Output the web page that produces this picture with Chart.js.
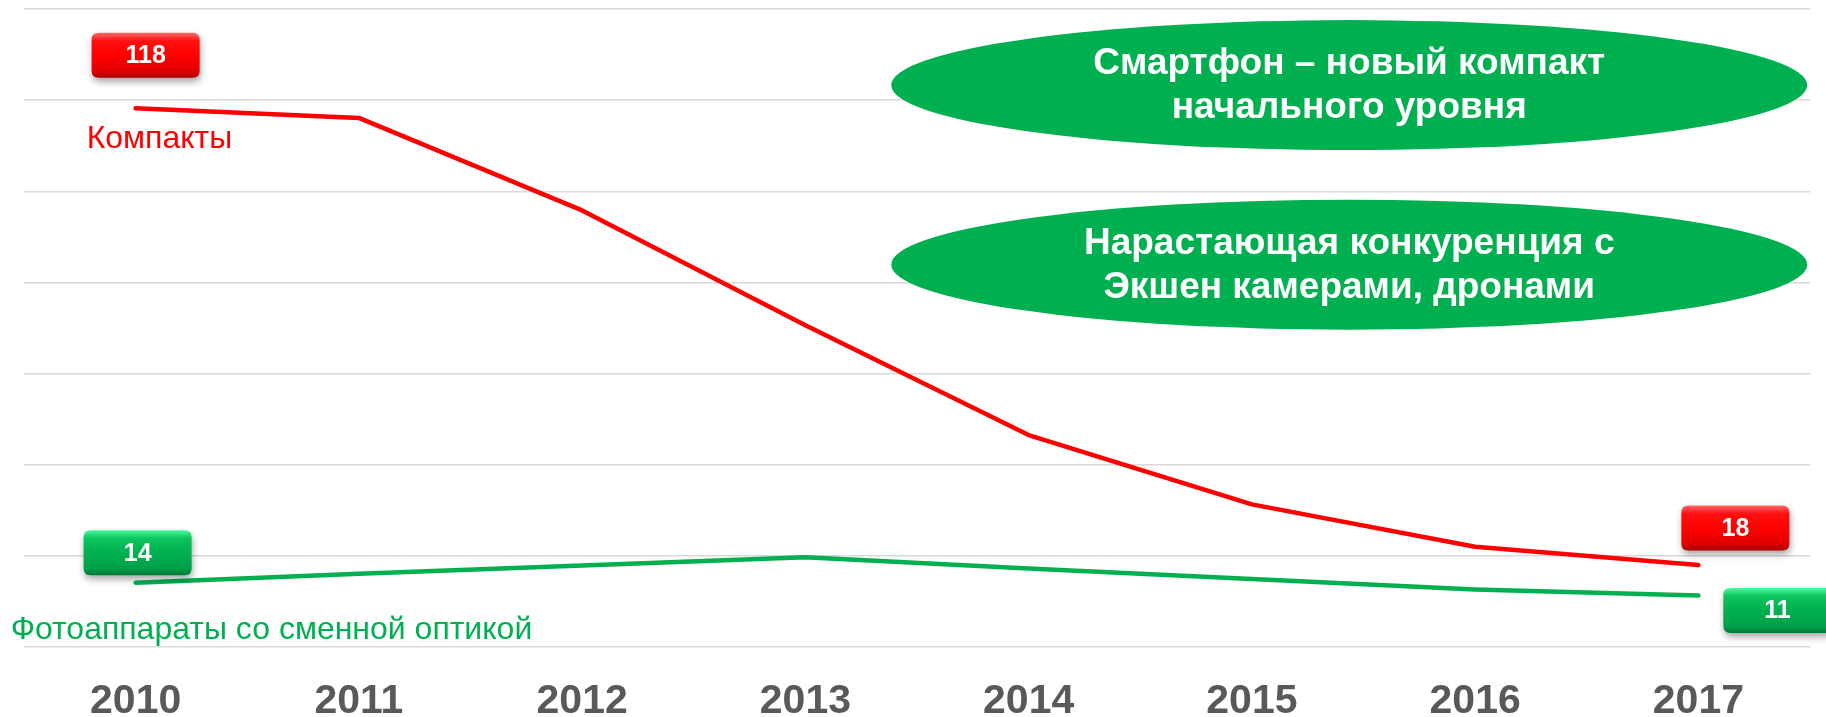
<!DOCTYPE html>
<html>
<head>
<meta charset="utf-8">
<script src="https://cdn.jsdelivr.net/npm/chart.js@4/dist/chart.umd.min.js"></script>
<style>
  html, body { margin: 0; padding: 0; background: #ffffff; }
  #wrap { width: 1826px; height: 717px; }
</style>
</head>
<body>
<div id="wrap"><canvas id="c" width="1826" height="717"></canvas></div>
<script>
// ---- data ----
const categories = ['2010', '2011', '2012', '2013', '2014', '2015', '2016', '2017'];
const compactValues = [118.2, 116.1, 95.8, 70.6, 46.5, 31.3, 22.0, 18.0];
const ilcValues = [14.1, 16.1, 17.9, 19.7, 17.2, 14.9, 12.6, 11.3];
const seriesNames = ['Компакты', 'Фотоаппараты со сменной оптикой'];
const yMin = 0, yMax = 140, yStep = 20;
// callout values shown in the boxes: [seriesIndex, categoryIndex, text]
const callouts = [[0, 0, '118'], [1, 0, '14'], [0, 7, '18'], [1, 7, '11']];
const notes = [
  ['Смартфон – новый компакт', 'начального уровня'],
  ['Нарастающая конкуренция с', 'Экшен камерами, дронами']
];

const FONT = '"Liberation Sans", Arial, sans-serif';
const RED = '#FF0000';
const GREEN = '#00B050';

function rr(ctx, x, y, w, h, r) {
  ctx.beginPath();
  ctx.moveTo(x + r, y);
  ctx.lineTo(x + w - r, y);
  ctx.quadraticCurveTo(x + w, y, x + w, y + r);
  ctx.lineTo(x + w, y + h - r);
  ctx.quadraticCurveTo(x + w, y + h, x + w - r, y + h);
  ctx.lineTo(x + r, y + h);
  ctx.quadraticCurveTo(x, y + h, x, y + h - r);
  ctx.lineTo(x, y + r);
  ctx.quadraticCurveTo(x, y, x + r, y);
  ctx.closePath();
}

// box placement offsets relative to its data point (style only)
const boxStyle = [
  { dx: 10, dy: -53 },   // 118
  { dx: 2, dy: -30 },    // 14
  { dx: 37, dy: -37 },   // 18
  { dx: 79, dy: 15 }     // 11
];
const palettes = [
  ['#ff6a6a', '#ff1010', '#ff0000', '#e00000', '#a80000'],
  ['#4dfa9e', '#0cc45c', '#00b050', '#00a048', '#007a36']
];

const overlay = {
  id: 'overlay',
  afterDatasetsDraw(chart) {
    const ctx = chart.ctx;
    const ys = chart.scales.y;
    const ca = chart.chartArea;

    // ellipses with notes
    const ex = ca.left + (ca.right - ca.left) * 0.742;
    const eRx = 458, eRy = 65;
    const eCy = [ys.getPixelForValue(123.3), ys.getPixelForValue(83.9)];
    notes.forEach((lines, i) => {
      ctx.save();
      ctx.fillStyle = GREEN;
      ctx.beginPath();
      ctx.ellipse(ex, eCy[i], eRx, eRy, 0, 0, Math.PI * 2);
      ctx.fill();
      ctx.fillStyle = '#ffffff';
      ctx.font = 'bold 37px ' + FONT;
      ctx.textAlign = 'center';
      ctx.textBaseline = 'middle';
      ctx.fillText(lines[0], ex, eCy[i] - 21);
      ctx.fillText(lines[1], ex, eCy[i] + 23);
      ctx.restore();
    });

    // series labels
    ctx.save();
    ctx.font = '32px ' + FONT;
    ctx.textAlign = 'left';
    ctx.textBaseline = 'alphabetic';
    ctx.fillStyle = RED;
    const p0 = chart.getDatasetMeta(0).data[0];
    ctx.fillText(seriesNames[0], p0.x - 49, p0.y + 40);
    ctx.fillStyle = GREEN;
    const p1 = chart.getDatasetMeta(1).data[0];
    ctx.fillText(seriesNames[1], p1.x - 125, p1.y + 56);
    ctx.restore();

    // callout boxes
    callouts.forEach((c, k) => {
      const pt = chart.getDatasetMeta(c[0]).data[c[1]];
      const st = boxStyle[k];
      const w = 108, h = 45;
      const cx = pt.x + st.dx, cy = pt.y + st.dy;
      const x = cx - w / 2, y = cy - h / 2;
      const pal = palettes[c[0]];
      ctx.save();
      ctx.shadowColor = 'rgba(0,0,0,0.35)';
      ctx.shadowBlur = 7;
      ctx.shadowOffsetY = 4;
      ctx.shadowOffsetX = 1;
      const g = ctx.createLinearGradient(0, y, 0, y + h);
      g.addColorStop(0, pal[0]);
      g.addColorStop(0.18, pal[1]);
      g.addColorStop(0.5, pal[2]);
      g.addColorStop(0.85, pal[3]);
      g.addColorStop(1, pal[4]);
      ctx.fillStyle = g;
      rr(ctx, x, y, w, h, 7);
      ctx.fill();
      ctx.restore();
      ctx.save();
      ctx.fillStyle = '#ffffff';
      ctx.font = 'bold 25px ' + FONT;
      ctx.textAlign = 'center';
      ctx.textBaseline = 'middle';
      ctx.fillText(c[2], cx, cy + 1);
      ctx.restore();
    });
  }
};

new Chart(document.getElementById('c'), {
  type: 'line',
  data: {
    labels: categories,
    datasets: [
      {
        label: seriesNames[0],
        data: compactValues,
        borderColor: RED,
        backgroundColor: RED,
        borderWidth: 4.5,
        pointRadius: 0,
        tension: 0,
        borderCapStyle: 'round',
        borderJoinStyle: 'round'
      },
      {
        label: seriesNames[1],
        data: ilcValues,
        borderColor: GREEN,
        backgroundColor: GREEN,
        borderWidth: 4.5,
        pointRadius: 0,
        tension: 0,
        borderCapStyle: 'round',
        borderJoinStyle: 'round'
      }
    ]
  },
  options: {
    responsive: false,
    devicePixelRatio: 1,
    animation: false,
    layout: { padding: { left: 24, right: 16, top: 9, bottom: -40 } },
    plugins: { legend: { display: false }, tooltip: { enabled: false } },
    scales: {
      x: {
        offset: true,
        grid: { display: false, drawTicks: false },
        border: { display: false },
        ticks: {
          color: '#595959',
          padding: 36,
          font: { family: FONT, size: 41, weight: 'bold', lineHeight: '38px' },
          maxRotation: 0,
          autoSkip: false
        }
      },
      y: {
        min: yMin,
        max: yMax,
        ticks: { display: false, stepSize: yStep },
        grid: { color: '#d9d9d9', lineWidth: 1.5, drawTicks: false },
        border: { display: false }
      }
    }
  },
  plugins: [overlay]
});
</script>
</body>
</html>
